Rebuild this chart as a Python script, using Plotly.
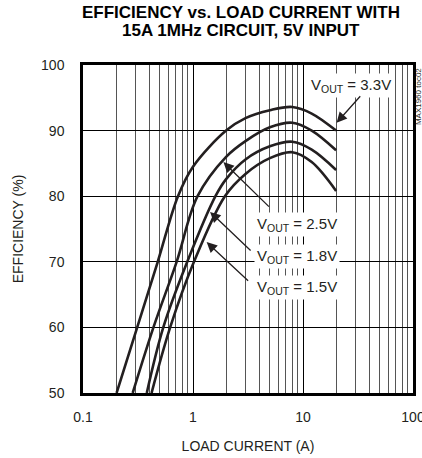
import plotly.graph_objects as go
import math

# ---- data ----
x_33 = [0.202, 0.311, 0.478, 0.73, 1.0, 2.0, 3.0, 5.0, 8.0, 12.0, 20.0]
y_33 = [50, 60, 70, 80, 84.5, 90.0, 91.9, 93.1, 93.6, 92.6, 90.0]
x_25 = [0.283, 0.437, 0.71, 1.1, 2.0, 3.0, 5.0, 8.0, 12.0, 20.0]
y_25 = [50, 60, 70, 80, 86.0, 88.4, 90.5, 91.2, 90.0, 87.0]
x_18 = [0.38, 0.537, 0.887, 1.6, 2.0, 3.0, 5.0, 8.0, 12.0, 20.0]
y_18 = [50, 60, 70, 80, 82.6, 85.6, 87.6, 88.3, 87.1, 84.0]
x_15 = [0.42, 0.62, 1.02, 1.95, 3.0, 5.0, 8.0, 12.0, 20.0]
y_15 = [50, 60, 70, 80, 83.4, 85.8, 86.7, 85.2, 80.8]

x_ticks = [0.1, 1, 10, 100]
x_tick_text = ["0.1", "1", "10", "100"]
y_ticks = [50, 60, 70, 80, 90, 100]

series = [("3.3V", x_33, y_33), ("2.5V", x_25, y_25),
          ("1.8V", x_18, y_18), ("1.5V", x_15, y_15)]

FONT = "Liberation Sans Narrow, Liberation Sans, Arial, sans-serif"
INK = "#231f20"

fig = go.Figure()
for name, xs, ys in series:
    fig.add_trace(go.Scatter(x=xs, y=ys, mode="lines", name=name,
                             line=dict(color=INK, width=2.6, shape="spline", smoothing=1.0),
                             showlegend=False, hoverinfo="skip"))

minor_vals = [m * 10 ** d for d in range(-1, 2) for m in range(2, 10)]

fig.update_layout(
    width=422, height=458,
    margin=dict(l=83, r=9, t=65, b=65),
    paper_bgcolor="white", plot_bgcolor="white",
    font=dict(family=FONT, color=INK, size=14),
    showlegend=False,
    xaxis=dict(type="log", range=[-1, 2], tickvals=x_ticks, ticktext=x_tick_text,
               showgrid=True, gridcolor="#000000", gridwidth=1.2,
               minor=dict(tickvals=minor_vals, showgrid=True, gridcolor="#555555", gridwidth=1),
               showline=True, linecolor="#000000", linewidth=2.5, mirror=True,
               ticks="", ticklabelstandoff=9, ticklabeloverflow="allow",
               zeroline=False, automargin=False,
               title=dict(text="LOAD CURRENT (A)", font=dict(size=14, family=FONT), standoff=18)),
    yaxis=dict(range=[50, 100], tickvals=y_ticks,
               showgrid=True, gridcolor="#000000", gridwidth=1,
               showline=True, linecolor="#000000", linewidth=2.5, mirror=True,
               ticks="", ticklabelstandoff=13, zeroline=False, automargin=False,
               title=dict(text="EFFICIENCY (%)", font=dict(size=14, family=FONT), standoff=15)),
)

# Title (two lines)
fig.add_annotation(text="<b>EFFICIENCY vs. LOAD CURRENT WITH</b>",
                   xref="paper", yref="paper", x=0.479, y=1.160, xanchor="center", yanchor="middle",
                   showarrow=False, font=dict(family=FONT, size=17, color="#000000"))
fig.add_annotation(text="<b>15A 1MHz CIRCUIT, 5V INPUT</b>",
                   xref="paper", yref="paper", x=0.479, y=1.104, xanchor="center", yanchor="middle",
                   showarrow=False, font=dict(family=FONT, size=17, color="#000000"))

# Side code
fig.add_annotation(text="MAX1960 toc02", xref="paper", yref="paper", x=1.015, y=0.905,
                   xanchor="center", yanchor="middle", textangle=-90, showarrow=False,
                   font=dict(family=FONT, size=8, color=INK))

# Labels
labels = [("3.3V", 0.812, 0.939), ("2.5V", 0.648, 0.515),
          ("1.8V", 0.648, 0.415), ("1.5V", 0.648, 0.323)]
for v, px, py in labels:
    fig.add_annotation(text="V<sub>OUT</sub> = " + v, xref="paper", yref="paper",
                       x=px, y=py, xanchor="center", yanchor="middle", showarrow=False,
                       bgcolor="white", borderpad=2,
                       font=dict(family=FONT, size=15, color=INK))

# Arrows (tip on the curve, tail offset in pixels)
arrows = [(20.2, 91.2, 25, -28), (1.89, 85.2, 47, 46),
          (1.43, 77.6, 42, 40), (1.33, 73.0, 43, 40)]
for xv, yv, ax, ay in arrows:
    fig.add_annotation(x=math.log10(xv), y=yv, xref="x", yref="y", text="",
                       showarrow=True, ax=ax, ay=ay, arrowhead=2, arrowsize=1.6,
                       arrowwidth=1.3, arrowcolor=INK, standoff=0)

fig.write_html("out.html", config={"displayModeBar": False},
               post_script="document.body.style.margin='0';document.body.style.padding='0';")
